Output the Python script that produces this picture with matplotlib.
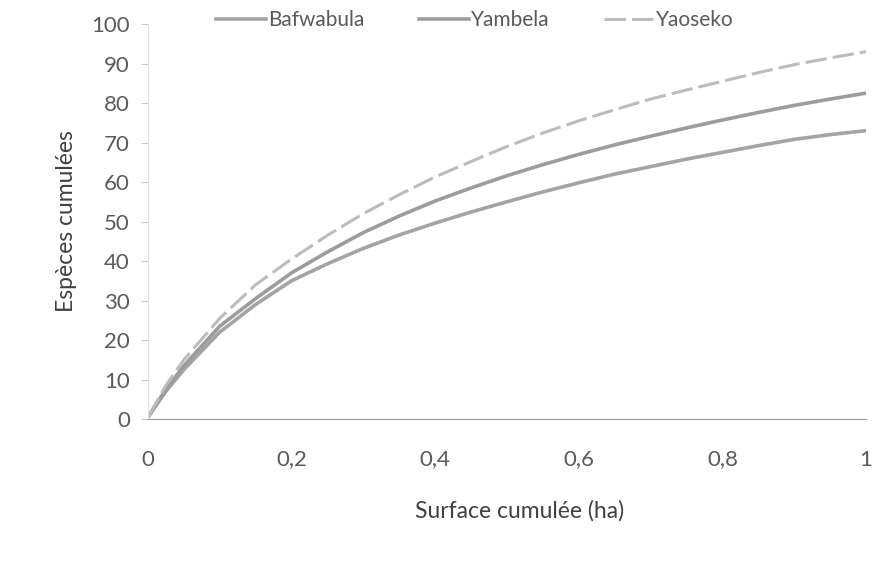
import numpy as np
import matplotlib
matplotlib.use('Agg')
from matplotlib import pyplot as plt

# surface (ha) and cumulated species
surface = [0, 0.025, 0.05, 0.1, 0.15, 0.2, 0.25, 0.3, 0.35, 0.4, 0.45, 0.5,
           0.55, 0.6, 0.65, 0.7, 0.75, 0.8, 0.85, 0.9, 0.95, 1.0]
bafwabula = [0.5, 7, 12.5, 22, 29, 35, 39.3, 43.2, 46.6, 49.6, 52.4, 55,
             57.5, 59.8, 62, 63.9, 65.8, 67.5, 69.2, 70.8, 72, 73]
yambela = [0.5, 7.5, 13.5, 23.5, 30.5, 37, 42.3, 47.2, 51.4, 55.2, 58.5, 61.6,
           64.4, 67, 69.4, 71.6, 73.7, 75.7, 77.6, 79.4, 81, 82.5]
yaoseko = [0.5, 8.5, 15, 25.5, 34, 40.5, 46.5, 52, 56.8, 61.3, 65.2, 69,
           72.4, 75.5, 78.3, 81, 83.3, 85.5, 87.7, 89.7, 91.4, 93]

x_ticks = [0, 0.2, 0.4, 0.6, 0.8, 1]
x_ticklabels = ['0', '0,2', '0,4', '0,6', '0,8', '1']
y_ticks = list(range(0, 101, 10))

plt.rcParams['font.family'] = ['Lato', 'DejaVu Sans']
txt_c = '#5a5a5a'

fig = plt.figure(figsize=(8.93, 5.65), dpi=100)
ax = fig.add_axes([0.1657, 0.2584, 0.8041, 0.6991])

ax.plot(surface, bafwabula, color='#a4a4a4', lw=2.6, label='Bafwabula')
ax.plot(surface, yambela, color='#9c9c9c', lw=2.6, label='Yambela')
ax.plot(surface, yaoseko, color='#bcbcbc', lw=2.2, ls=(0, (7, 2)), label='Yaoseko')

ax.set_xlim(0, 1)
ax.set_ylim(0, 100)
ax.set_xticks(x_ticks)
ax.set_xticklabels(x_ticklabels)
ax.set_yticks(y_ticks)

for s in ['top', 'right']:
    ax.spines[s].set_visible(False)
ax.spines['bottom'].set_color('#9a9a9a')
ax.spines['left'].set_color('#e0e0e0')
ax.tick_params(axis='y', length=5, color='#c8c8c8', labelsize=16, labelcolor=txt_c, pad=8)
ax.tick_params(axis='x', length=0, labelsize=16, labelcolor=txt_c, pad=22)

ax.set_xlabel('Surface cumulée (ha)', fontsize=16.5, color='#404040')
ax.xaxis.set_label_coords(0.518, -0.205)
ax.set_ylabel('Espèces cumulées', fontsize=16.5, color='#404040', labelpad=10)

leg = ax.legend(loc='center', bbox_to_anchor=(0.455, 1.01), ncol=3, frameon=False,
                fontsize=15, handlelength=2.4, handletextpad=0.1, columnspacing=2.6)
for t in leg.get_texts():
    t.set_color(txt_c)

fig.savefig('out.png', dpi=100)
